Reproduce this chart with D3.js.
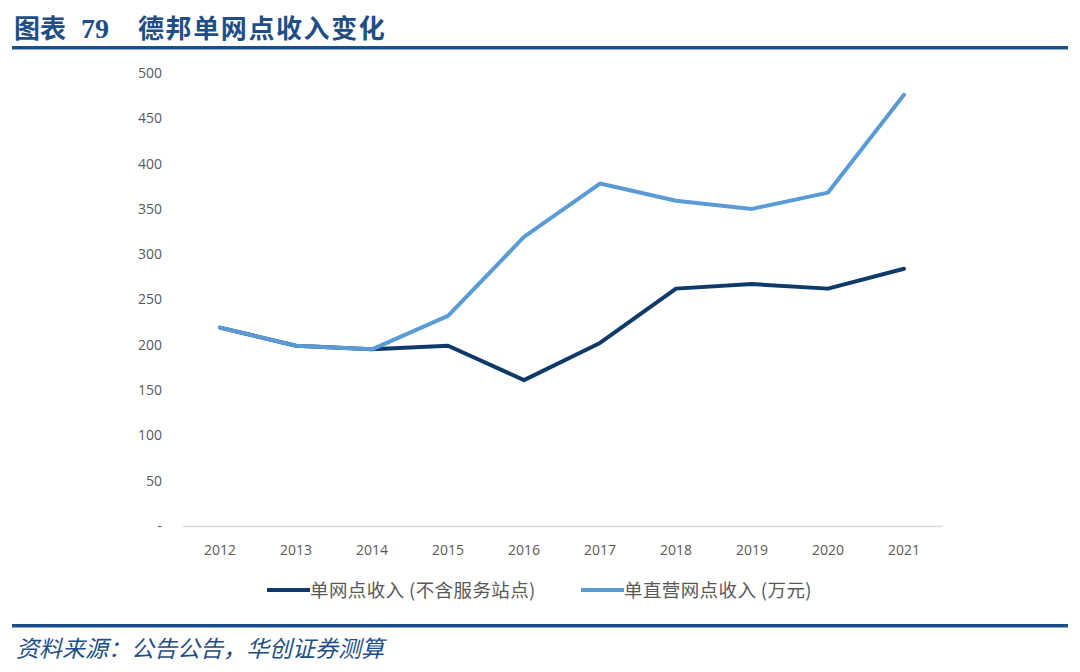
<!DOCTYPE html>
<html>
<head>
<meta charset="utf-8">
<script src="https://cdn.jsdelivr.net/npm/d3@7"></script>
<style>
  body { margin: 0; background: #fff; }
  svg { display: block; }
</style>
</head>
<body>
<svg id="svg1" width="1080" height="672"></svg>
<script>
// data
var years = ["2012","2013","2014","2015","2016","2017","2018","2019","2020","2021"];
var perPoint = [219, 199, 195, 199, 161, 202, 262, 267, 262, 284];      // 单网点收入（不含服务站点）
var perDirect = [219, 199, 195, 232, 319, 378, 359, 350, 368, 476];     // 单直营网点收入（万元）
var yTicks = [0, 50, 100, 150, 200, 250, 300, 350, 400, 450, 500];

const svg    = d3.select("#svg1"),
      margin = {top: 73, left: 182, right: 138, bottom: 146},
      width  = 1080 - margin.left - margin.right,
      height = 672 - margin.top - margin.bottom,
      x      = d3.scaleBand().domain(years).range([0, width]),
      y      = d3.scaleLinear().domain([0, 500]).range([height, 0]),
      g      = svg.append("g").attr("transform", `translate(${margin.left},${margin.top})`);

const cjk = "'Noto Sans CJK SC', 'Noto Sans', sans-serif";

// title
var title = svg.append("text")
    .attr("y", 38)
    .style("font-family", cjk)
    .style("font-weight", "bold")
    .style("font-size", "26px")
    .attr("fill", "#1f4e86");
title.append("tspan").attr("x", 14).text("图表");
title.append("tspan").attr("x", 81)
    .style("font-family", "'Liberation Serif', serif")
    .style("font-size", "28px")
    .text("79");
title.append("tspan").attr("x", 138)
    .style("letter-spacing", "1.6px")
    .text("德邦单网点收入变化");

svg.append("rect").attr("x", 12).attr("y", 46).attr("width", 1056).attr("height", 3.5).attr("fill", "#1b4f8a");
svg.append("rect").attr("x", 12).attr("y", 624).attr("width", 1056).attr("height", 3.5).attr("fill", "#1b4f8a");

// source
svg.append("text")
    .attr("x", 16).attr("y", 657)
    .style("font-family", cjk)
    .style("font-style", "italic")
    .style("font-size", "23px")
    .attr("fill", "#1f4e86")
    .text("资料来源：公告公告，华创证券测算");

// axes
g.append("g")
    .attr("class", "axis axis-y")
    .call(d3.axisLeft(y).tickValues(yTicks).tickSize(0).tickPadding(20)
        .tickFormat(d => d === 0 ? "-" : d))
    .call(a => a.select(".domain").remove())
    .selectAll("text")
      .style("font-family", "'Open Sans', 'Noto Sans', sans-serif")
      .style("font-size", "14px")
      .attr("fill", "#595959");

g.append("g")
    .attr("class", "axis axis-x")
    .attr("transform", `translate(0,${height})`)
    .call(d3.axisBottom(x).tickSize(0).tickPadding(19))
    .call(a => a.select(".domain").attr("stroke", "#d9d9d9").attr("stroke-width", 1.5))
    .selectAll("text")
      .style("font-family", "'Open Sans', 'Noto Sans', sans-serif")
      .style("font-size", "14px")
      .attr("fill", "#595959");

// lines
const line = d3.line()
    .x((d, i) => x(years[i]) + x.bandwidth() / 2)
    .y(d => y(d));

g.append("path")
    .datum(perPoint)
    .attr("fill", "none")
    .attr("stroke", "#0e3a6a")
    .attr("stroke-width", 4)
    .attr("stroke-linejoin", "round")
    .attr("stroke-linecap", "round")
    .attr("d", line);

g.append("path")
    .datum(perDirect)
    .attr("fill", "none")
    .attr("stroke", "#5b9bd5")
    .attr("stroke-width", 4)
    .attr("stroke-linejoin", "round")
    .attr("stroke-linecap", "round")
    .attr("d", line);

// legend
var legend = [
  {name: "单网点收入 (不含服务站点)", color: "#0e3a6a", x: 267},
  {name: "单直营网点收入 (万元)", color: "#5b9bd5", x: 581}
];
legend.forEach(function(l) {
  svg.append("line")
      .attr("x1", l.x).attr("x2", l.x + 43)
      .attr("y1", 590).attr("y2", 590)
      .attr("stroke", l.color).attr("stroke-width", 4);
  svg.append("text")
      .attr("x", l.x + 43).attr("y", 597)
      .style("font-family", cjk)
      .style("font-size", "18.5px")
      .style("letter-spacing", "0.4px")
      .attr("fill", "#595959")
      .text(l.name);
});
</script>
</body>
</html>
